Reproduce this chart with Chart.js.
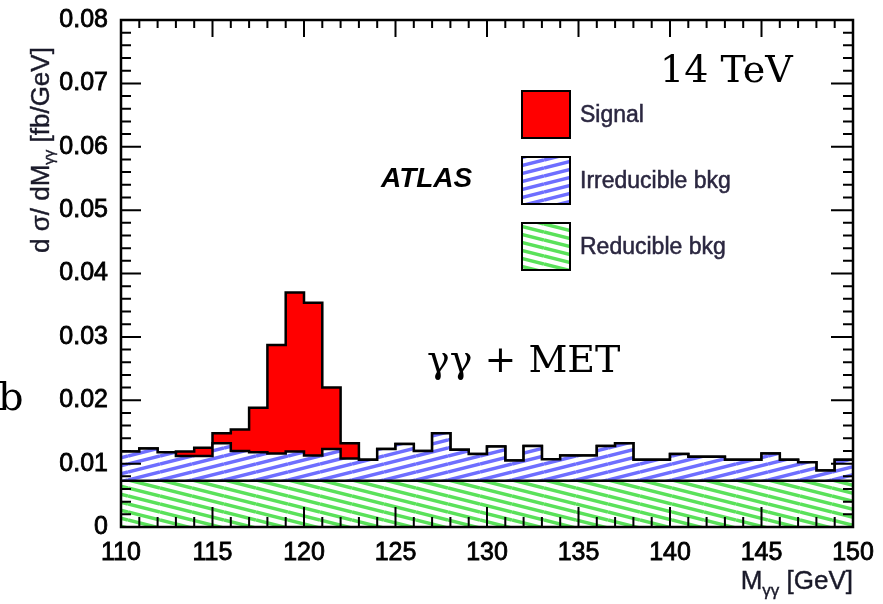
<!DOCTYPE html>
<html>
<head>
<meta charset="utf-8">
<script src="https://cdn.jsdelivr.net/npm/chart.js@4/dist/chart.umd.min.js"></script>
<style>
  html, body { margin: 0; padding: 0; background: #fff; }
  #wrap { width: 883px; height: 604px; position: relative; }
</style>
</head>
<body>
<div id="wrap"><canvas id="histo"></canvas></div>
<script>
// bin low edges, GeV (1 GeV bins, 110-150)
const binLow = [110, 111, 112, 113, 114, 115, 116, 117, 118, 119,
                120, 121, 122, 123, 124, 125, 126, 127, 128, 129,
                130, 131, 132, 133, 134, 135, 136, 137, 138, 139,
                140, 141, 142, 143, 144, 145, 146, 147, 148, 149];
const xTicks = [110, 115, 120, 125, 130, 135, 140, 145, 150];
const yTicks = [0, 0.01, 0.02, 0.03, 0.04, 0.05, 0.06, 0.07, 0.08];

// stacked contributions, fb/GeV
const reducible = [0.0073, 0.0073, 0.0073, 0.0073, 0.0073, 0.0073, 0.0073, 0.0073, 0.0073, 0.0073,
                   0.0073, 0.0073, 0.0073, 0.0073, 0.0073, 0.0073, 0.0073, 0.0073, 0.0073, 0.0073,
                   0.0073, 0.0073, 0.0073, 0.0073, 0.0073, 0.0073, 0.0073, 0.0073, 0.0073, 0.0073,
                   0.0073, 0.0073, 0.0073, 0.0073, 0.0073, 0.0073, 0.0073, 0.0073, 0.0073, 0.0073];
const irreducible = [0.0046, 0.0051, 0.0045, 0.0039, 0.0039, 0.0059, 0.0047, 0.0045, 0.0043, 0.0046,
                     0.0040, 0.0050, 0.0035, 0.0033, 0.0050, 0.0058, 0.0047, 0.0075, 0.0049, 0.0042,
                     0.0054, 0.0032, 0.0055, 0.0034, 0.0040, 0.0040, 0.0055, 0.0059, 0.0033, 0.0033,
                     0.0042, 0.0038, 0.0038, 0.0033, 0.0033, 0.0043, 0.0033, 0.0029, 0.0016, 0.0033];
const signal = [0, 0, 0, 0.0007, 0.0013, 0.0016, 0.0034, 0.0070, 0.0171, 0.0251,
                0.0241, 0.0097, 0.0024, 0, 0, 0, 0, 0, 0, 0,
                0, 0, 0, 0, 0, 0, 0, 0, 0, 0,
                0, 0, 0, 0, 0, 0, 0, 0, 0, 0];

const labels = ["Signal", "Irreducible bkg", "Reducible bkg"];

function hatch(color, down) {
  const c = document.createElement("canvas");
  c.width = 32; c.height = 8;
  const g = c.getContext("2d");
  g.fillStyle = "#fff";
  g.fillRect(0, 0, 32, 8);
  g.strokeStyle = color;
  g.lineWidth = 3.5;
  [-8, 0, 8].forEach(off => {
    g.beginPath();
    if (down) { g.moveTo(0, off); g.lineTo(32, off + 8); }
    else { g.moveTo(0, off + 8); g.lineTo(32, off); }
    g.stroke();
  });
  return g.createPattern(c, "repeat");
}

const ctx = document.getElementById("histo").getContext("2d");
const bluePat = hatch("rgb(110,110,255)", false);
const greenPat = hatch("rgb(90,225,90)", true);

// step points: one per low edge, plus the closing edge at 150
function steps(vals) {
  const pts = binLow.map((x, i) => ({ x: x, y: vals[i] }));
  pts.push({ x: binLow[binLow.length - 1] + 1, y: vals[vals.length - 1] });
  return pts;
}

const common = { stepped: true, pointRadius: 0, borderColor: "#000", borderWidth: 2.5 };

// text with a thin outline so it reads as heavy as the reference
function heavyText(c, t, x, y, w) {
  c.fillText(t, x, y);
  c.lineWidth = w;
  c.strokeStyle = c.fillStyle;
  c.strokeText(t, x, y);
}

const decor = {
  id: "decor",
  afterDatasetsDraw(chart) {
    const c = chart.ctx, a = chart.chartArea;
    const xs = chart.scales.x, ys = chart.scales.y;
    c.save();
    c.strokeStyle = "#000";
    c.lineWidth = 2;
    c.beginPath();
    for (let v = 110; v <= 150; v++) {
      const px = xs.getPixelForValue(v);
      const major = v % 5 === 0;
      c.moveTo(px, a.bottom); c.lineTo(px, a.bottom - (major ? 20 : 10));
      c.moveTo(px, a.top); c.lineTo(px, a.top + (major ? 17 : 8));
    }
    for (let k = 0; k <= 40; k++) {
      const py = ys.getPixelForValue(k * 0.002);
      const major = k % 5 === 0;
      c.moveTo(a.left, py); c.lineTo(a.left + (major ? 20 : 10), py);
      c.moveTo(a.right, py); c.lineTo(a.right - (major ? 22 : 10), py);
    }
    c.stroke();
    c.lineWidth = 2.5;
    c.strokeRect(a.left, a.top, a.right - a.left, a.bottom - a.top);
    c.restore();
  },
  afterDraw(chart) {
    const c = chart.ctx;
    c.save();
    c.fillStyle = "#000";
    c.textBaseline = "alphabetic";

    c.font = "38px 'DejaVu Serif'";
    c.fillText("14 TeV", 660, 82);
    c.fillText("γγ + MET", 427, 372);
    c.font = "40px 'DejaVu Serif'";
    c.fillText("b", -2, 410);

    c.font = "italic bold 28px 'Liberation Sans'";
    c.fillText("ATLAS", 381, 187);

    // legend
    const fills = ["#ff0000", bluePat, greenPat];
    const tops = [91, 157, 223];
    labels.forEach((t, i) => {
      c.fillStyle = fills[i];
      c.fillRect(522, tops[i], 48, 47);
      c.strokeStyle = "#000";
      c.lineWidth = 2;
      c.strokeRect(522, tops[i], 48, 47);
      c.fillStyle = "#2b2740";
      c.font = "23px 'Liberation Sans'";
      heavyText(c, t, 580, tops[i] + 31, 0.5);
    });

    // y title
    c.fillStyle = "#1a1a2a";
    c.translate(49, 253);
    c.rotate(-Math.PI / 2);
    let x = 0;
    c.font = "26px 'Liberation Sans'";
    heavyText(c, "d σ/ dM", x, 0, 0.4); x += c.measureText("d σ/ dM").width;
    c.font = "15px 'Liberation Sans'";
    heavyText(c, "γγ", x, 5, 0.4); x += c.measureText("γγ").width;
    c.font = "26px 'Liberation Sans'";
    heavyText(c, " [fb/GeV]", x, 0, 0.4);
    c.setTransform(1, 0, 0, 1, 0, 0);

    // x title, right aligned to the frame
    c.font = "26px 'Liberation Sans'";
    const wM = c.measureText("M").width, wR = c.measureText(" [GeV]").width;
    c.font = "17px 'Liberation Sans'";
    const wS = c.measureText("γγ").width;
    const x0 = 853 - wM - wS - wR;
    c.font = "26px 'Liberation Sans'";
    heavyText(c, "M", x0, 589, 0.4);
    c.font = "17px 'Liberation Sans'";
    heavyText(c, "γγ", x0 + wM, 596, 0.4);
    c.font = "26px 'Liberation Sans'";
    heavyText(c, " [GeV]", x0 + wM + wS, 589, 0.4);
    c.restore();
  }
};

const tickFont = { family: "Liberation Sans", size: 25 };

new Chart(ctx, {
  type: "line",
  data: {
    datasets: [
      Object.assign({ label: labels[2], data: steps(reducible), fill: "origin", backgroundColor: greenPat }, common),
      Object.assign({ label: labels[1], data: steps(irreducible), fill: "-1", backgroundColor: bluePat }, common),
      Object.assign({ label: labels[0], data: steps(signal), fill: "-1", backgroundColor: "#ff0000" }, common)
    ]
  },
  options: {
    responsive: true,
    maintainAspectRatio: false,
    animation: false,
    layout: { padding: { top: 17, right: 30, left: 0, bottom: 0 } },
    plugins: { legend: { display: false }, tooltip: { enabled: false } },
    scales: {
      x: {
        type: "linear",
        min: xTicks[0],
        max: xTicks[xTicks.length - 1],
        grid: { display: false },
        border: { display: false },
        afterBuildTicks: s => { s.ticks = xTicks.map(v => ({ value: v })); },
        ticks: { color: "#000", font: tickFont, padding: 3, maxRotation: 0, autoSkip: false,
                 textStrokeColor: "#000", textStrokeWidth: 0.8 },
        afterFit: s => { s.height = 77; }
      },
      y: {
        stacked: true,
        min: yTicks[0],
        max: yTicks[yTicks.length - 1],
        grid: { display: false },
        border: { display: false },
        afterBuildTicks: s => { s.ticks = yTicks.map(v => ({ value: v })); },
        ticks: {
          color: "#000",
          font: tickFont,
          padding: 5,
          textStrokeColor: "#000",
          textStrokeWidth: 0.8,
          callback: v => (v === 0 ? "0" : v.toFixed(2))
        },
        afterFit: s => { s.width = 121; }
      }
    }
  },
  plugins: [decor]
});
</script>
</body>
</html>
